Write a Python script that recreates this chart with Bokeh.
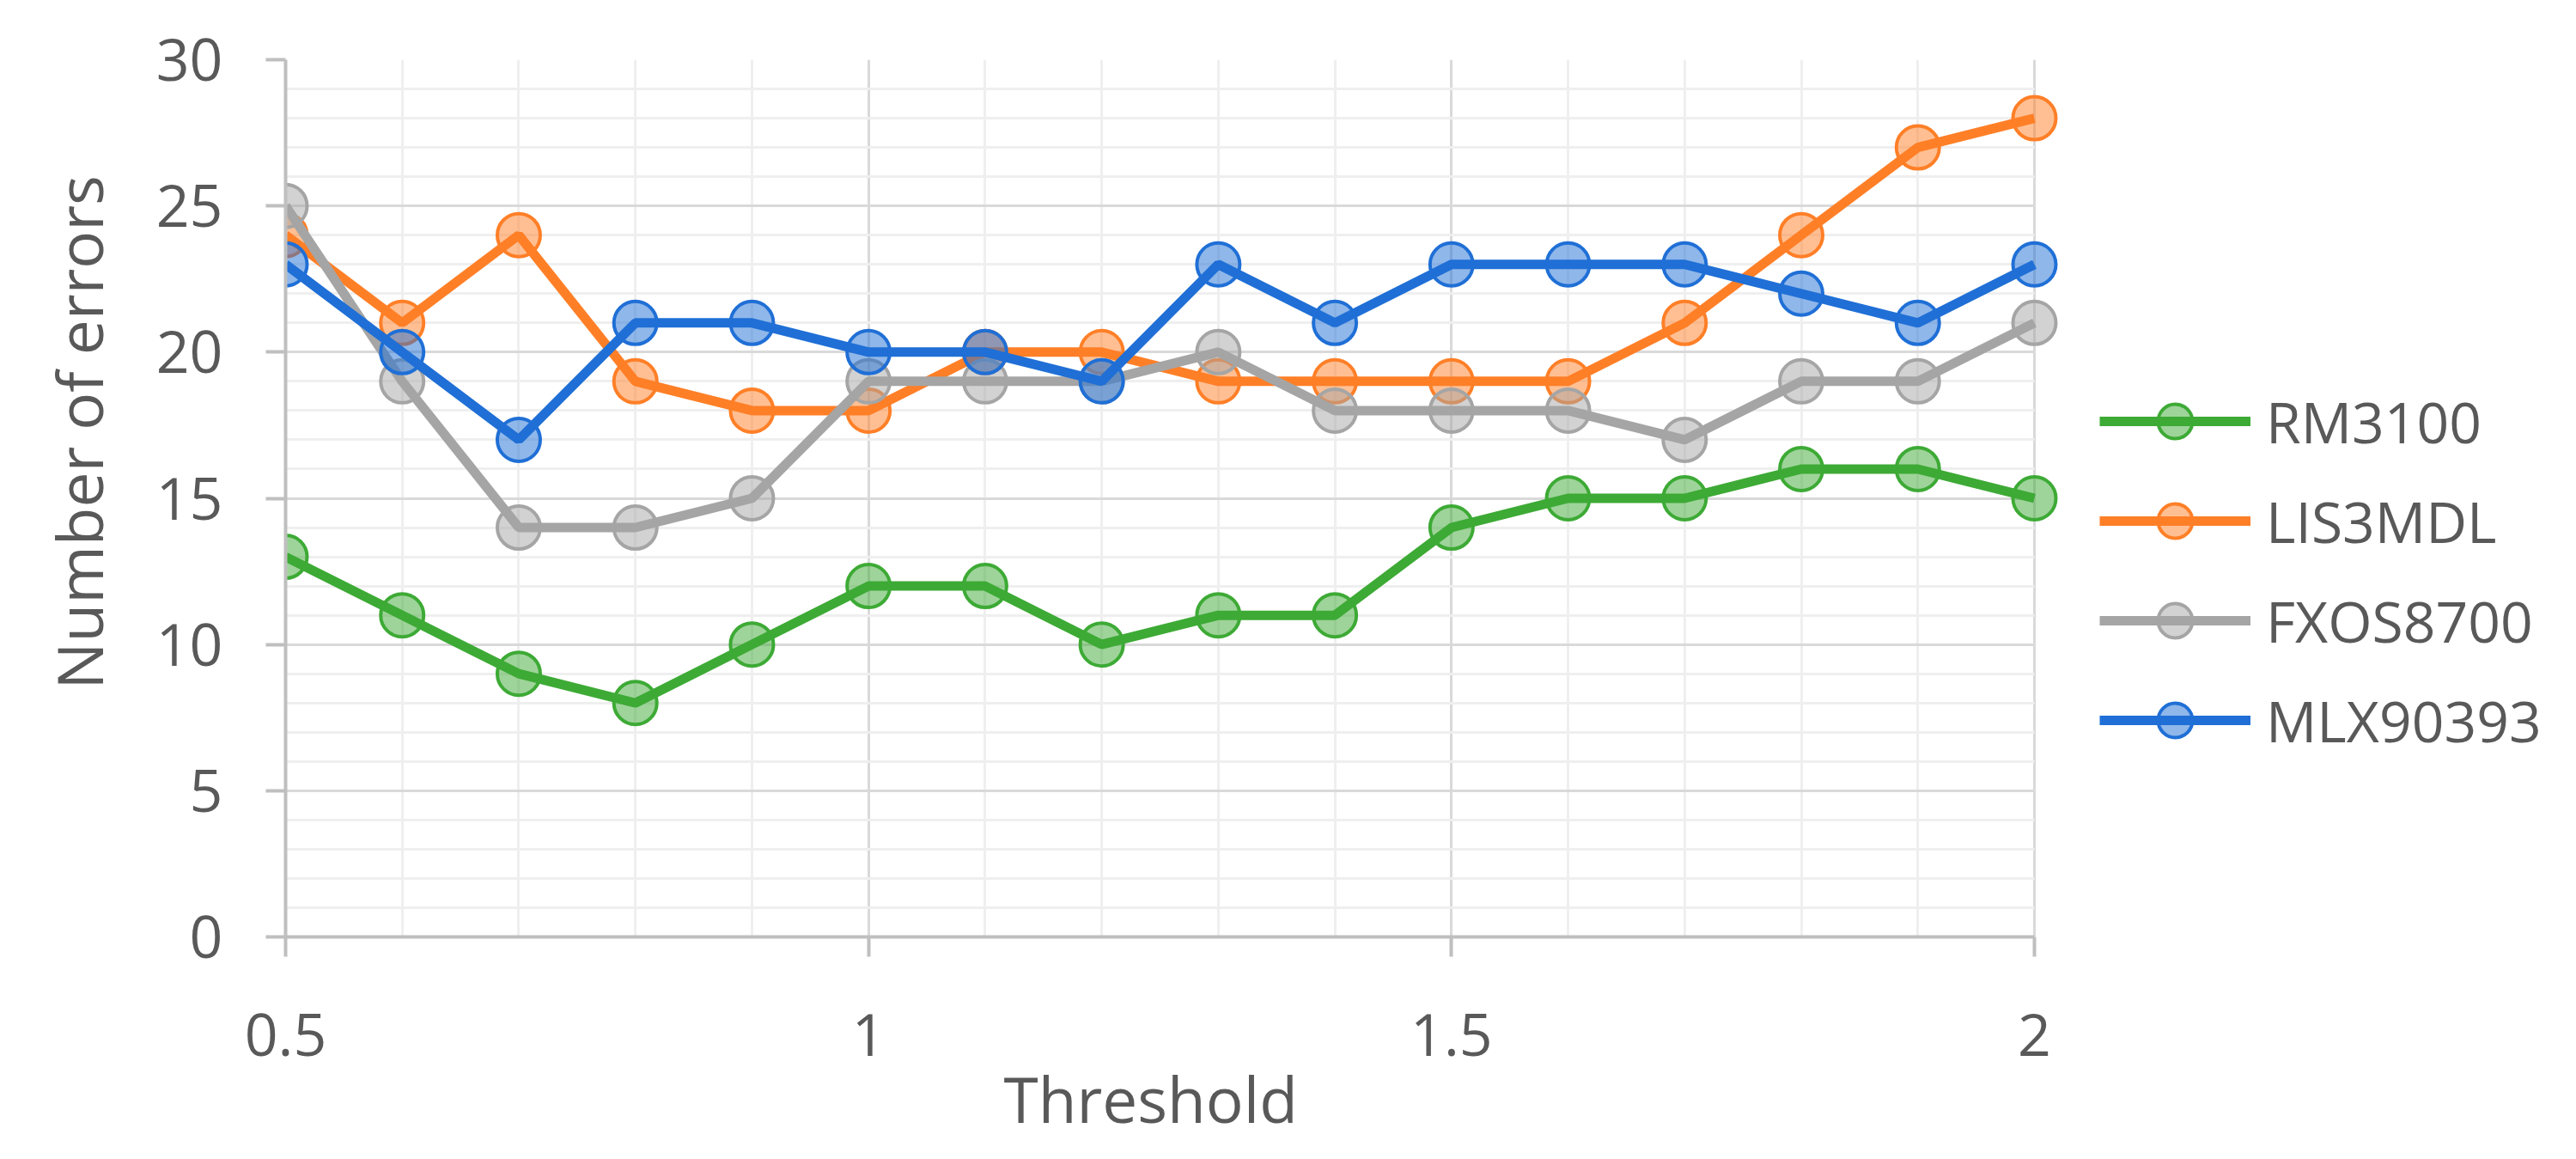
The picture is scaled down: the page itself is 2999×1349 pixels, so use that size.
from bokeh.plotting import figure
from bokeh.models import (FixedTicker, CustomJSTickFormatter, Legend, LegendItem,
                          ColumnDataSource, Title)
from bokeh.embed import file_html
from bokeh.resources import INLINE

# ---- data ----
threshold = [0.5, 0.6, 0.7, 0.8, 0.9, 1.0, 1.1, 1.2, 1.3, 1.4, 1.5, 1.6, 1.7, 1.8, 1.9, 2.0]
rm3100   = [13, 11, 9, 8, 10, 12, 12, 10, 11, 11, 14, 15, 15, 16, 16, 15]
lis3mdl  = [24, 21, 24, 19, 18, 18, 20, 20, 19, 19, 19, 19, 21, 24, 27, 28]
fxos8700 = [25, 19, 14, 14, 15, 19, 19, 19, 20, 18, 18, 18, 17, 19, 19, 21]
mlx90393 = [23, 20, 17, 21, 21, 20, 20, 19, 23, 21, 23, 23, 23, 22, 21, 23]
series_names = ["RM3100", "LIS3MDL", "FXOS8700", "MLX90393"]
x_ticks = [0.5, 1.0, 1.5, 2.0]
y_ticks = [0, 5, 10, 15, 20, 25, 30]
x_title = "Threshold"
y_title = "Number of errors"

colors = ["#3DAA35", "#FF7F27", "#A5A5A5", "#1F6FD6"]
FONT = "Open Sans"
TXT = "#595959"

# ---- layout (pixels) ----
W, H = 2983, 1333
LEFT, RIGHT, TOP, BOTTOM = 332, 0, 69, 243
DATA_PX = 2036                      # pixel width of the 0.5..2.0 data span
x0, x1 = x_ticks[0], x_ticks[-1]
frame_px = W - LEFT - RIGHT
x_end = x0 + (x1 - x0) * frame_px / DATA_PX   # frame extends right to hold the legend

p = figure(width=W, height=H, output_backend="svg", toolbar_location=None,
           x_range=(x0, x_end), y_range=(y_ticks[0], y_ticks[-1]),
           min_border_left=LEFT, min_border_right=RIGHT,
           min_border_top=TOP, min_border_bottom=BOTTOM)
p.outline_line_color = None
p.background_fill_color = "white"
p.border_fill_color = "white"

# axes
p.xaxis.ticker = FixedTicker(ticks=x_ticks, minor_ticks=[round(x0 + 0.1 * i, 1) for i in range(16)])
p.yaxis.ticker = FixedTicker(ticks=y_ticks, minor_ticks=list(range(0, 31)))
p.xaxis.formatter = CustomJSTickFormatter(code="return tick.toString();")
p.xaxis.bounds = (x0, x1)
for ax in (p.xaxis, p.yaxis):
    ax.axis_line_color = "#BFBFBF"
    ax.axis_line_width = 4
    ax.major_tick_line_color = "#BFBFBF"
    ax.major_tick_line_width = 4
    ax.major_tick_out = 23
    ax.major_tick_in = 0
    ax.minor_tick_out = 0
    ax.minor_tick_in = 0
    ax.major_label_text_font = FONT
    ax.major_label_text_font_size = "68px"
    ax.major_label_text_color = TXT
p.xaxis.major_label_standoff = 66
p.yaxis.major_label_standoff = 50

# axis titles (placed as titles so they centre on the data span, as in the reference)
xtitle = Title(text=x_title, align="left", offset=836, text_font=FONT,
               text_font_size="73px", text_color=TXT, text_font_style="normal",
               standoff=-10)
p.add_layout(xtitle, "below")
ytitle = Title(text=y_title, align="left", offset=288, text_font=FONT,
               text_font_size="73px", text_color=TXT, text_font_style="normal",
               standoff=76)
p.add_layout(ytitle, "left")

# grids (horizontal lines limited to the data span)
p.xgrid.grid_line_color = "#D9D9D9"
p.xgrid.grid_line_width = 3
p.xgrid.minor_grid_line_color = "#EFEFEF"
p.xgrid.minor_grid_line_width = 3
p.ygrid.grid_line_color = "#D9D9D9"
p.ygrid.grid_line_width = 3
p.ygrid.minor_grid_line_color = "#EFEFEF"
p.ygrid.minor_grid_line_width = 3
p.ygrid.cross_bounds = (x0, x1)

items = []
for name, vals, c in zip(series_names, [rm3100, lis3mdl, fxos8700, mlx90393], colors):
    src = ColumnDataSource(dict(x=threshold, y=vals))
    ln = p.line("x", "y", source=src, line_color=c, line_width=11)
    mk = p.scatter("x", "y", marker="circle", size=50, source=src,
                   fill_color=c, fill_alpha=0.5, line_color=c, line_width=4)
    items.append(LegendItem(label=name, renderers=[ln, mk]))

legend = Legend(items=items, location=(DATA_PX + 76, 202), orientation="vertical")
legend.label_text_font = FONT
legend.label_text_font_size = "66px"
legend.label_text_color = TXT
legend.glyph_width = 176
legend.glyph_height = 100
legend.label_height = 100
legend.label_standoff = 18
legend.spacing = 16
legend.padding = 0
legend.margin = 0
legend.border_line_color = None
legend.background_fill_alpha = 0
p.add_layout(legend, "center")

open("out.html", "w").write(file_html(p, INLINE))
